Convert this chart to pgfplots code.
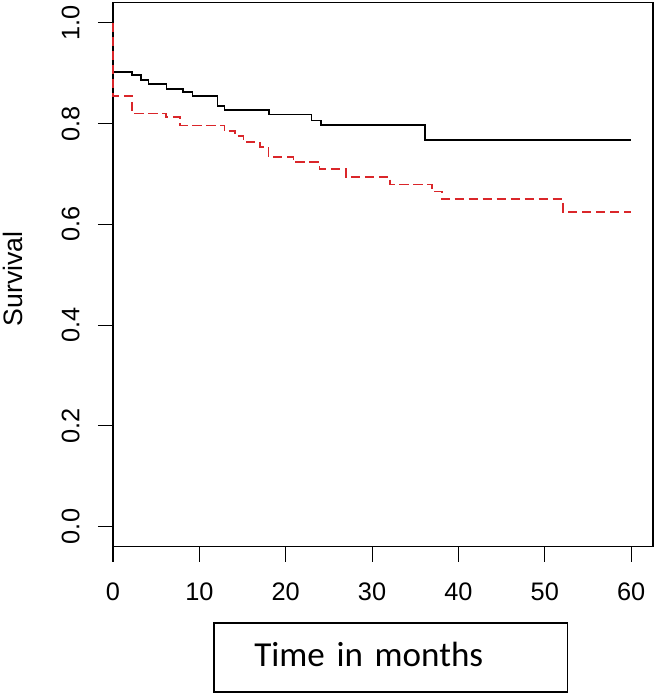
\documentclass[border=0pt]{standalone}
\usepackage{fontspec}
\setmainfont{Liberation Sans}
\newfontfamily\calibri{Carlito}
\usepackage{pgfplots}
\pgfplotsset{compat=1.18}
\definecolor{kmred}{RGB}{218,38,42}
\begin{document}
\begin{tikzpicture}
\useasboundingbox (0,0) rectangle (492pt,522pt);
\begin{axis}[
  at={(84.75pt,112pt)}, anchor=south west,
  scale only axis, width=404.8pt, height=408pt,
  xmin=0, xmax=62.5, ymin=-0.04, ymax=1.04,
  axis line style={line width=1.2pt},
  xtick={0,10,20,30,40,50,60}, ytick={0,0.2,0.4,0.6,0.8,1.0},
  xtick pos=bottom, ytick pos=left, tick align=outside,
  major tick length=11.25pt,
  every tick/.style={black, line width=0.8pt},
  /pgf/number format/assume math mode=true,
  tick label style={font=\fontsize{19}{19}\selectfont},
  yticklabel style={/pgf/number format/.cd, fixed, fixed zerofill, precision=1, /tikz/.cd,
    rotate=90, anchor=south, inner xsep=0pt, inner ysep=13.5pt},
  xticklabel style={anchor=north, inner xsep=0pt, inner ysep=16pt},
  ylabel={Survival},
  ylabel style={at={(axis description cs:-0.1847,0.492)}, anchor=center, font=\fontsize{20}{20}\selectfont},
  xlabel={Time in months},
  xlabel style={at={(axis description cs:0.5148,-0.2042)}, anchor=center, draw, line width=1.2pt,
    font=\calibri\fontsize{26.3}{26.3}\selectfont, inner xsep=30.2pt, inner ysep=0pt,
    text width=204.8pt, align=left, minimum height=51.75pt, text height=13.4pt, text depth=0pt},
  clip=false,
]
\addplot[const plot, black, line width=1.3pt] coordinates {
(0,1.0)(0,0.903)(2.2,0.896)(3.2,0.887)(4.1,0.878)(6.2,0.868)(8.1,0.863)(9.2,0.854)
(12.1,0.835)(12.9,0.827)(18.1,0.818)(23.0,0.806)(24.1,0.797)(36.1,0.767)(60,0.767)};
\addplot[const plot, kmred, line width=1.3pt, dash pattern=on 7pt off 3.5pt] coordinates {
(0,1.0)(0,0.855)(2.2,0.820)(6.1,0.813)(7.8,0.796)(12.9,0.785)(14.1,0.775)(15.1,0.764)
(17.0,0.754)(18.0,0.734)(20.9,0.723)(23.9,0.710)(27.0,0.694)(32.1,0.679)(36.9,0.665)
(38.1,0.650)(52.1,0.625)(60,0.625)};
\end{axis}
\end{tikzpicture}
\end{document}
